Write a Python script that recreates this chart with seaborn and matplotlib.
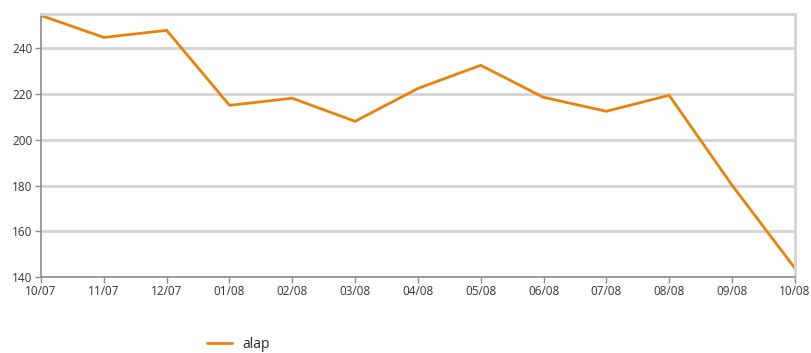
import numpy as np
import pandas as pd
import seaborn as sns
import matplotlib.pyplot as plt

months = ["10/07", "11/07", "12/07", "01/08", "02/08", "03/08", "04/08",
          "05/08", "06/08", "07/08", "08/08", "09/08", "10/08"]
alap = [254.4, 244.8, 247.9, 215.1, 218.2, 208.1, 222.5,
        232.6, 218.6, 212.5, 219.5, 180.2, 143.9]

sns.set_style("white")
plt.rcParams['font.family'] = ['Open Sans', 'DejaVu Sans']

df = pd.DataFrame({"idx": np.arange(len(months)), "alap": alap})

fig = plt.figure(figsize=(8.11, 3.53), dpi=100)
ax = fig.add_axes([0.0506, 0.2153, 0.9294, 0.7447])

sns.lineplot(data=df, x="idx", y="alap", ax=ax, color="#E8820C", linewidth=2, label="alap")

ax.set_xlim(0, len(months) - 1)
ax.set_ylim(140, 255)
ax.set_yticks([140, 160, 180, 200, 220, 240])
ax.set_xticks(np.arange(len(months)))
ax.set_xticklabels(months)
ax.set_xlabel("")
ax.set_ylabel("")
ax.yaxis.grid(True, color="#d4d4d4", linewidth=2)
ax.set_axisbelow(True)

for s in ["top", "right"]:
    ax.spines[s].set_color("#d4d4d4")
    ax.spines[s].set_linewidth(2)
for s in ["left", "bottom"]:
    ax.spines[s].set_color("#8c8c8c")
    ax.spines[s].set_linewidth(1.2)

ax.tick_params(axis="both", labelsize=8.5, colors="#333333", length=4, width=1,
               color="#8c8c8c", pad=2)
ax.tick_params(axis="both", direction="out", bottom=True, left=True)

ax.legend(loc="center", bbox_to_anchor=(0.262, -0.255), frameon=False, fontsize=10,
          handlelength=1.8, borderpad=0)

fig.savefig("out.png", dpi=100)
